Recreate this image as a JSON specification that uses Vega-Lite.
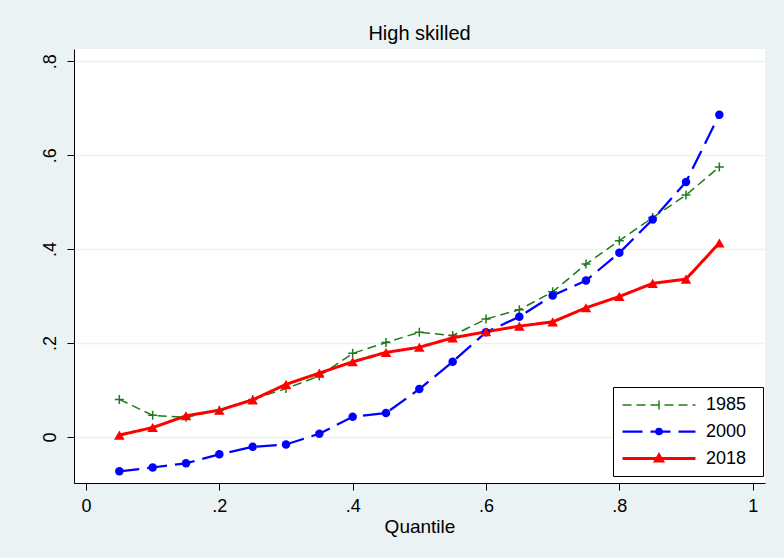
{
  "$schema": "https://vega.github.io/schema/vega-lite/v6.json",
  "autosize": {"type": "none"},
  "padding": {"left": 74, "top": 49, "right": 19, "bottom": 75},
  "width": 691,
  "height": 434,
  "background": "#EAF2F3",
  "title": {"text": "High skilled", "fontSize": 20, "font": "Liberation Sans", "fontWeight": "normal", "color": "black", "offset": 5, "anchor": "middle"},
  "config": {
    "view": {"fill": "white", "stroke": null},
    "font": "Liberation Sans",
    "axis": {"labelFont": "Liberation Sans", "titleFont": "Liberation Sans", "labelColor": "black", "titleColor": "black", "domainColor": "black", "tickColor": "black", "domainWidth": 1, "tickWidth": 1, "tickSize": 7, "labelFontSize": 18, "titleFontSize": 19, "titleFontWeight": "normal"}
  },
  "data": {"values": [
    {"q": 0.05, "series": "1985", "v": 0.080}, {"q": 0.10, "series": "1985", "v": 0.046}, {"q": 0.15, "series": "1985", "v": 0.042}, {"q": 0.20, "series": "1985", "v": 0.057}, {"q": 0.25, "series": "1985", "v": 0.080}, {"q": 0.30, "series": "1985", "v": 0.103}, {"q": 0.35, "series": "1985", "v": 0.130}, {"q": 0.40, "series": "1985", "v": 0.178}, {"q": 0.45, "series": "1985", "v": 0.201}, {"q": 0.50, "series": "1985", "v": 0.223}, {"q": 0.55, "series": "1985", "v": 0.216}, {"q": 0.60, "series": "1985", "v": 0.251}, {"q": 0.65, "series": "1985", "v": 0.271}, {"q": 0.70, "series": "1985", "v": 0.309}, {"q": 0.75, "series": "1985", "v": 0.368}, {"q": 0.80, "series": "1985", "v": 0.418}, {"q": 0.85, "series": "1985", "v": 0.467}, {"q": 0.90, "series": "1985", "v": 0.515}, {"q": 0.95, "series": "1985", "v": 0.575},
    {"q": 0.05, "series": "2000", "v": -0.073}, {"q": 0.10, "series": "2000", "v": -0.065}, {"q": 0.15, "series": "2000", "v": -0.056}, {"q": 0.20, "series": "2000", "v": -0.037}, {"q": 0.25, "series": "2000", "v": -0.021}, {"q": 0.30, "series": "2000", "v": -0.016}, {"q": 0.35, "series": "2000", "v": 0.007}, {"q": 0.40, "series": "2000", "v": 0.043}, {"q": 0.45, "series": "2000", "v": 0.051}, {"q": 0.50, "series": "2000", "v": 0.102}, {"q": 0.55, "series": "2000", "v": 0.160}, {"q": 0.60, "series": "2000", "v": 0.223}, {"q": 0.65, "series": "2000", "v": 0.256}, {"q": 0.70, "series": "2000", "v": 0.301}, {"q": 0.75, "series": "2000", "v": 0.333}, {"q": 0.80, "series": "2000", "v": 0.392}, {"q": 0.85, "series": "2000", "v": 0.463}, {"q": 0.90, "series": "2000", "v": 0.543}, {"q": 0.95, "series": "2000", "v": 0.686},
    {"q": 0.05, "series": "2018", "v": 0.004}, {"q": 0.10, "series": "2018", "v": 0.020}, {"q": 0.15, "series": "2018", "v": 0.045}, {"q": 0.20, "series": "2018", "v": 0.057}, {"q": 0.25, "series": "2018", "v": 0.079}, {"q": 0.30, "series": "2018", "v": 0.112}, {"q": 0.35, "series": "2018", "v": 0.136}, {"q": 0.40, "series": "2018", "v": 0.160}, {"q": 0.45, "series": "2018", "v": 0.180}, {"q": 0.50, "series": "2018", "v": 0.191}, {"q": 0.55, "series": "2018", "v": 0.211}, {"q": 0.60, "series": "2018", "v": 0.224}, {"q": 0.65, "series": "2018", "v": 0.236}, {"q": 0.70, "series": "2018", "v": 0.245}, {"q": 0.75, "series": "2018", "v": 0.275}, {"q": 0.80, "series": "2018", "v": 0.299}, {"q": 0.85, "series": "2018", "v": 0.327}, {"q": 0.90, "series": "2018", "v": 0.336}, {"q": 0.95, "series": "2018", "v": 0.413}
  ]},
  "encoding": {
    "x": {"field": "q", "type": "quantitative", "scale": {"domain": [-0.018, 1.0185], "nice": false, "zero": false},
      "axis": {"values": [0, 0.2, 0.4, 0.6, 0.8, 1], "grid": false, "title": "Quantile", "labelPadding": 7, "titlePadding": 2, "labelFlush": false, "labelOverlap": false,
        "labelExpr": "datum.value == 0 ? '0' : datum.value == 1 ? '1' : substring(format(datum.value, '.1f'), 1)"}},
    "y": {"field": "v", "type": "quantitative", "scale": {"domain": [-0.098, 0.826], "nice": false, "zero": false},
      "axis": {"values": [0, 0.2, 0.4, 0.6, 0.8], "grid": true, "gridColor": "#EAF2F3", "gridWidth": 1.5, "title": null, "labelAngle": -90, "labelAlign": "center", "labelBaseline": "bottom", "labelPadding": 8, "labelFlush": false, "labelOverlap": false,
        "labelExpr": "datum.value == 0 ? '0' : substring(format(datum.value, '.1f'), 1)"}},
    "color": {"field": "series", "type": "nominal", "scale": {"domain": ["1985", "2000", "2018"], "range": ["#1F7A1F", "#0000FF", "#FF0000"]},
      "legend": {"title": null, "orient": "none", "legendX": 539, "legendY": 338, "padding": 8, "strokeColor": "black", "fillColor": "white", "labelFontSize": 18, "labelColor": "black", "labelFont": "Liberation Sans", "labelOffset": 64, "rowPadding": 7, "symbolSize": 324, "symbolOpacity": 1,
        "symbolType": {"expr": "datum.value === '1985' ? 'M-1,0H7.11M3.056,-0.49V0.49M13,0' : datum.value === '2000' ? 'M-1,0H7.11M2.756,0A0.3,0.3 0 1,0 3.356,0A0.3,0.3 0 1,0 2.756,0ZM13,0' : 'M-1,0H7.11M3.056,-0.38L3.44,0.28L2.672,0.28ZM13,0'"},
        "symbolStrokeWidth": {"expr": "datum.value === '2000' ? 3 : datum.value === '2018' ? 2.5 : 1.5"},
        "symbolDash": {"expr": "datum.value === '1985' ? [9,5] : datum.value === '2000' ? [20,8] : []"},
        "symbolFillColor": {"expr": "datum.value === '1985' ? '#1F7A1F' : datum.value === '2000' ? '#0000FF' : '#FF0000'"},
        "symbolStrokeColor": {"expr": "datum.value === '1985' ? '#1F7A1F' : datum.value === '2000' ? '#0000FF' : '#FF0000'"}
      }}
  },
  "layer": [
    {
      "mark": {"type": "line"},
      "encoding": {
        "strokeDash": {"field": "series", "type": "nominal", "scale": {"domain": ["1985", "2000", "2018"], "range": [[9, 5], [20, 8], [1, 0]]}, "legend": null},
        "strokeWidth": {"field": "series", "type": "ordinal", "scale": {"domain": ["1985", "2000", "2018"], "range": [1.5, 3, 2.5]}, "legend": null}
      }
    },
    {
      "transform": [{"filter": "datum.series === '1985'"}],
      "mark": {"type": "point", "shape": "M-1,0H1M0,-1V1", "size": 81, "filled": false, "strokeWidth": 1.5, "opacity": 1}
    },
    {
      "transform": [{"filter": "datum.series === '2000'"}],
      "mark": {"type": "point", "shape": "circle", "size": 72, "filled": true, "opacity": 1}
    },
    {
      "transform": [{"filter": "datum.series === '2018'"}],
      "mark": {"type": "point", "shape": "triangle-up", "size": 110, "filled": true, "opacity": 1}
    }
  ]
}
